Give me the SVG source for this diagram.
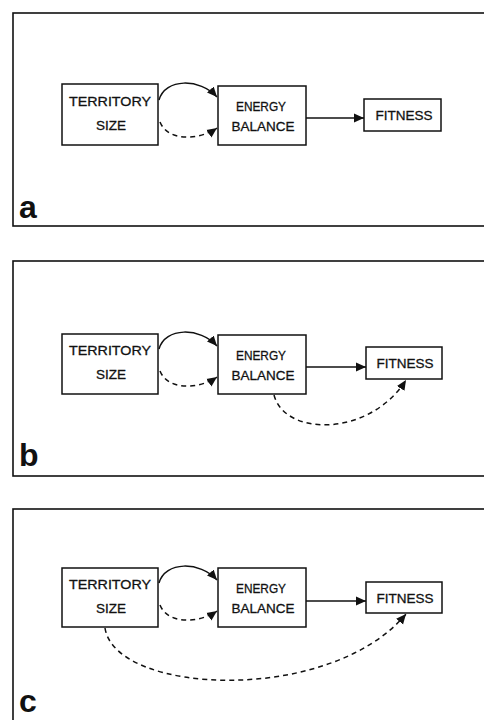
<svg xmlns="http://www.w3.org/2000/svg" width="484" height="720" viewBox="0 0 484 720">
<defs>
<style>
.frame{fill:none;stroke:#111;stroke-width:1.6}
.box{fill:#fff;stroke:#111;stroke-width:1.5}
.t{font-family:"Liberation Sans",Arial,sans-serif;font-size:13.5px;fill:#111;stroke:#111;stroke-width:0.3;text-anchor:middle}
.lbl{font-family:"Liberation Sans",Arial,sans-serif;font-size:32px;font-weight:bold;fill:#111}
.c{fill:none;stroke:#111;stroke-width:1.5}
.d{fill:none;stroke:#111;stroke-width:1.5;stroke-dasharray:5 4}
</style>
<marker id="ah" viewBox="0 0 10 10" refX="10" refY="5" markerWidth="10" markerHeight="10" markerUnits="userSpaceOnUse" orient="auto">
<path d="M0,0.5 L10,5 L0,9.5 z" fill="#111"/>
</marker>
</defs>
<rect fill="#fff" x="0" y="0" width="484" height="720"/>

<!-- Panel a -->
<g id="panel-a">
<rect class="frame" x="13" y="13" width="480" height="213"/>
<text class="lbl" x="19" y="218">a</text>
</g>
<g id="a-territory">
<rect class="box" x="62" y="84" width="96" height="61"/>
<text class="t" x="110" y="106" textLength="82" lengthAdjust="spacingAndGlyphs">TERRITORY</text>
<text class="t" x="111" y="130">SIZE</text>
</g>
<g id="a-energy">
<rect class="box" x="218" y="86" width="88" height="59"/>
<text class="t" x="261" y="111" textLength="50" lengthAdjust="spacingAndGlyphs">ENERGY</text>
<text class="t" x="263" y="131" textLength="63" lengthAdjust="spacingAndGlyphs">BALANCE</text>
</g>
<g id="a-fitness">
<rect class="box" x="364" y="99" width="77" height="32"/>
<text class="t" x="404" y="120">FITNESS</text>
</g>
<g id="a-connectors">
<path class="c" d="M159,100 C165,78 200,78 217,97" marker-end="url(#ah)"/>
<path class="d" d="M160,122 C168,142 200,140 217,128" marker-end="url(#ah)"/>
<path class="c" d="M306,118 L364,118" marker-end="url(#ah)"/>
</g>

<!-- Panel b -->
<g id="panel-b">
<rect class="frame" x="13" y="261" width="480" height="215"/>
<text class="lbl" x="19" y="466">b</text>
</g>
<g id="b-territory">
<rect class="box" x="62" y="334" width="96" height="60"/>
<text class="t" x="110" y="355" textLength="82" lengthAdjust="spacingAndGlyphs">TERRITORY</text>
<text class="t" x="111" y="379">SIZE</text>
</g>
<g id="b-energy">
<rect class="box" x="218" y="335" width="88" height="59"/>
<text class="t" x="261" y="360" textLength="50" lengthAdjust="spacingAndGlyphs">ENERGY</text>
<text class="t" x="263" y="380" textLength="63" lengthAdjust="spacingAndGlyphs">BALANCE</text>
</g>
<g id="b-fitness">
<rect class="box" x="366" y="347" width="76" height="32"/>
<text class="t" x="405" y="368">FITNESS</text>
</g>
<g id="b-connectors">
<path class="c" d="M159,349 C165,327 200,327 217,346" marker-end="url(#ah)"/>
<path class="d" d="M160,371 C168,391 200,389 217,377" marker-end="url(#ah)"/>
<path class="c" d="M306,367 L366,367" marker-end="url(#ah)"/>
<path class="d" d="M274,395 C285,437 370,437 406,380" marker-end="url(#ah)"/>
</g>

<!-- Panel c -->
<g id="panel-c">
<rect class="frame" x="13" y="509" width="480" height="230"/>
<text class="lbl" x="19" y="712">c</text>
</g>
<g id="c-territory">
<rect class="box" x="62" y="568" width="96" height="59"/>
<text class="t" x="110" y="589" textLength="82" lengthAdjust="spacingAndGlyphs">TERRITORY</text>
<text class="t" x="111" y="613">SIZE</text>
</g>
<g id="c-energy">
<rect class="box" x="218" y="568" width="88" height="59"/>
<text class="t" x="261" y="593" textLength="50" lengthAdjust="spacingAndGlyphs">ENERGY</text>
<text class="t" x="263" y="613" textLength="63" lengthAdjust="spacingAndGlyphs">BALANCE</text>
</g>
<g id="c-fitness">
<rect class="box" x="366" y="582" width="76" height="31"/>
<text class="t" x="405" y="603">FITNESS</text>
</g>
<g id="c-connectors">
<path class="c" d="M159,583 C165,561 200,561 217,580" marker-end="url(#ah)"/>
<path class="d" d="M160,605 C168,625 200,623 217,611" marker-end="url(#ah)"/>
<path class="c" d="M306,601 L366,601" marker-end="url(#ah)"/>
<path class="d" d="M105,628 C115,695 330,705 406,614" marker-end="url(#ah)"/>
</g>
</svg>
